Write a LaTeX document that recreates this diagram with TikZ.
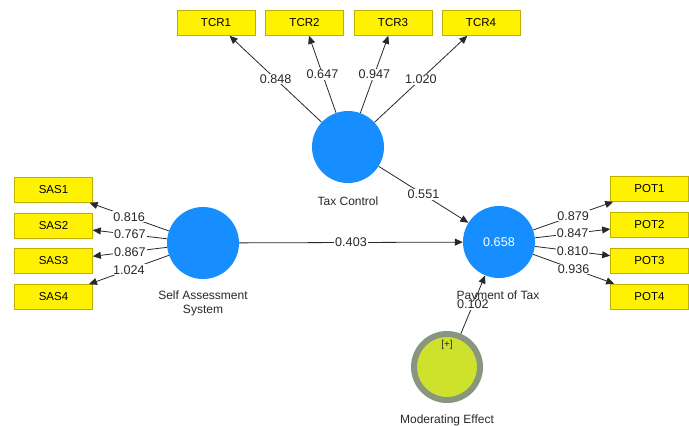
\documentclass[tikz,border=0pt]{standalone}
\usepackage{fontspec}
\setmainfont{Liberation Sans}
\usetikzlibrary{arrows.meta}
\definecolor{plsblue}{RGB}{22,142,255}
\definecolor{boxborder}{RGB}{190,175,0}
\definecolor{modfill}{RGB}{206,226,44}
\definecolor{modring}{RGB}{136,150,128}
\definecolor{txt}{RGB}{40,40,40}
\begin{document}
\begin{tikzpicture}[x=1pt,y=-1pt,
  ind/.style={draw=boxborder, fill=yellow, minimum width=78pt, minimum height=25pt,
    inner sep=0pt, line width=0.6pt, font=\fontsize{11.5}{13}\selectfont, text=black},
  lv/.style={circle, fill=plsblue, minimum size=72pt, inner sep=0pt},
  modlv/.style={circle, fill=modfill, draw=modring, line width=6pt, minimum size=66pt, inner sep=0pt},
  conn/.style={draw=txt, line width=0.8pt, -{Triangle[length=8pt,width=7pt]}},
  coef/.style={fill=white, inner sep=1pt, font=\fontsize{12.6}{14}\selectfont, text=txt},
  lbl/.style={font=\fontsize{12}{14}\selectfont, text=txt, align=center, inner sep=0pt}]
\useasboundingbox[fill=white] (0,0) rectangle (689,426);

% latent variables
\node[lv] (tc) at (348,147) {};
\node[lv] (sas) at (203,243) {};
\node[lv] (pot) at (499,242) {\textcolor{white}{\fontsize{12.6}{14}\selectfont 0.658}};
\node[modlv] (mod) at (447,367) {};
\node[font=\fontsize{10}{12}\selectfont, text=txt] (plus) at (447,345) {[+]};

% indicators
\node[ind] (tcr1) at (216,23) {TCR1};
\node[ind] (tcr2) at (304.5,23) {TCR2};
\node[ind] (tcr3) at (393,23) {TCR3};
\node[ind] (tcr4) at (481,23) {TCR4};
\node[ind] (sas1) at (53.5,190) {SAS1};
\node[ind] (sas2) at (53.5,225.5) {SAS2};
\node[ind] (sas3) at (53.5,261) {SAS3};
\node[ind] (sas4) at (53.5,297) {SAS4};
\node[ind] (pot1) at (649.5,189) {POT1};
\node[ind] (pot2) at (649.5,224.5) {POT2};
\node[ind] (pot3) at (649.5,260.5) {POT3};
\node[ind] (pot4) at (649.5,296.5) {POT4};

% connectors
\draw[conn] (tc) -- coordinate[midway] (c1) (tcr1);
\draw[conn] (tc) -- coordinate[midway] (c2) (tcr2);
\draw[conn] (tc) -- coordinate[midway] (c3) (tcr3);
\draw[conn] (tc) -- coordinate[midway] (c4) (tcr4);
\draw[conn] (sas) -- coordinate[midway] (s1) (sas1);
\draw[conn] (sas) -- coordinate[midway] (s2) (sas2);
\draw[conn] (sas) -- coordinate[midway] (s3) (sas3);
\draw[conn] (sas) -- coordinate[midway] (s4) (sas4);
\draw[conn] (pot) -- coordinate[midway] (p1) (pot1);
\draw[conn] (pot) -- coordinate[midway] (p2) (pot2);
\draw[conn] (pot) -- coordinate[midway] (p3) (pot3);
\draw[conn] (pot) -- coordinate[midway] (p4) (pot4);
\draw[conn] (tc) -- coordinate[midway] (ctp) (pot);
\draw[conn] (sas) -- coordinate[midway] (csp) (pot);
\draw[conn] (mod) -- coordinate[midway] (cmp) (pot);

% coefficients
\node[coef] at (c1) {0.848};
\node[coef] at (c2) {0.647};
\node[coef] at (c3) {0.947};
\node[coef] at (c4) {1.020};
\node[coef] at (s1) {0.816};
\node[coef] at (s2) {0.767};
\node[coef] at (s3) {0.867};
\node[coef] at (s4) {1.024};
\node[coef] at (p1) {0.879};
\node[coef] at (p2) {0.847};
\node[coef] at (p3) {0.810};
\node[coef] at (p4) {0.936};
\node[coef] at (ctp) {0.551};
\node[coef] at (csp) {0.403};
\node[coef] at (cmp) {0.102};

% latent variable labels
\node[lbl] (ltc) at (348,201) {Tax Control};
\node[lbl] (lsas) at (203,303) {Self Assessment\\System};
\node[lbl] (lpot) at (498,296) {Payment of Tax};
\node[lbl] (lmod) at (447,420) {Moderating Effect};
\end{tikzpicture}
\end{document}
